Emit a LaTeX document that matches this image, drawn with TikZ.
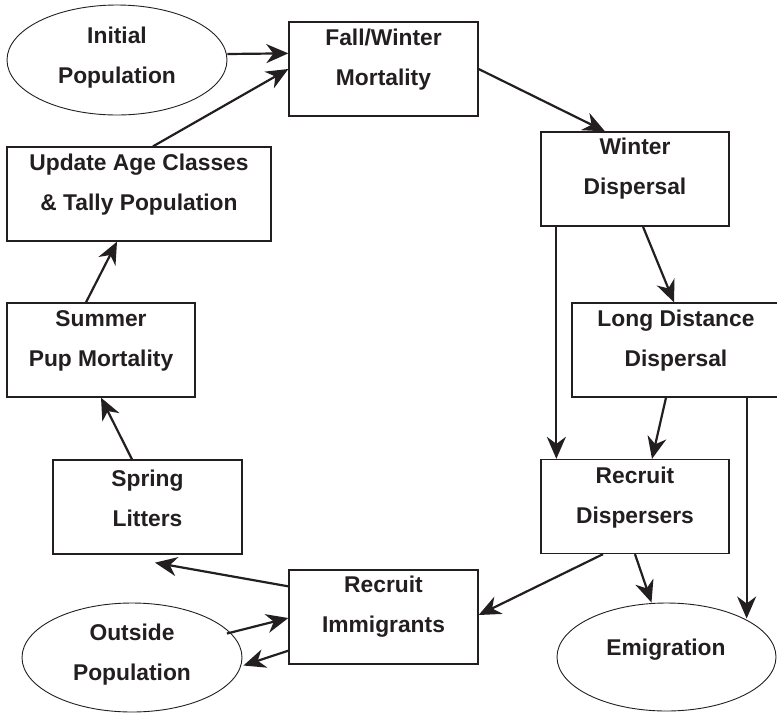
\documentclass[tikz,border=0pt]{standalone}
\usepackage{fontspec}
\setmainfont{Liberation Sans}
\usetikzlibrary{arrows.meta,shapes.geometric,calc}
\definecolor{ink}{RGB}{35,31,32}
\begin{document}
\begin{tikzpicture}[x=1pt,y=-1pt,
  box/.style={draw=ink, line width=1.3pt, rectangle, minimum height=94pt, inner sep=0pt},
  oval/.style={draw=ink, line width=0.9pt, ellipse, inner sep=0pt},
  txt/.style={font=\bfseries\fontsize{22.8}{40}\selectfont, align=center, text=ink, inner sep=0pt},
  flow/.style={draw=ink, line width=2.2pt, -{Stealth[length=22pt,width=19pt,inset=7pt]}}]
\useasboundingbox (0,0) rectangle (777,713);

% stages of the annual cycle
\node[oval, minimum width=220pt, minimum height=110pt] (init) at (117,60) {};
\node[box, minimum width=189pt] (fall) at (383.5,69) {};
\node[box, minimum width=264pt] (upd) at (139,194) {};
\node[box, minimum width=188pt] (wint) at (635,179) {};
\node[box, minimum width=208pt] (long) at (676,350) {};
\node[box, minimum width=188pt] (rdisp) at (635,506.5) {};
\node[oval, minimum width=219pt, minimum height=108pt] (emig) at (666.5,657) {};
\node[box, minimum width=189pt] (rimm) at (383.5,617) {};
\node[oval, minimum width=220pt, minimum height=109pt] (outside) at (132,657.5) {};
\node[box, minimum width=189pt] (spring) at (147.5,507) {};
\node[box, minimum width=188pt] (summer) at (101,350) {};

% labels
\node[txt] (tinit) at (117,58) {Initial\\Population};
\node[txt] (tfall) at (383.5,60) {Fall/Winter\\Mortality};
\node[txt] (tupd) at (139,184.5) {Update Age Classes\\\& Tally Population};
\node[txt] (twint) at (635,169) {Winter\\Dispersal};
\node[txt] (tlong) at (676,341) {Long Distance\\Dispersal};
\node[txt] (trdisp) at (635,497.5) {Recruit\\Dispersers};
\node[txt] (temig) at (666,650) {Emigration};
\node[txt] (trimm) at (383.5,607) {Recruit\\Immigrants};
\node[txt] (toutside) at (132,655) {Outside\\Population};
\node[txt] (tspring) at (147.5,498) {Spring\\Litters};
\node[txt] (tsummer) at (101,341) {Summer\\Pup Mortality};

% transitions
\draw[flow] ($(init.east)+(0,-6)$) -- ($(fall.north west)+(0,32)$);
\draw[flow] ($(upd.north)+(14,0)$) -- (fall.west);
\draw[flow] (fall.east) -- ($(wint.north)+(-30,0)$);
\draw[flow] ($(wint.south west)+(16,0)$) -- ($(rdisp.north west)+(16,0)$);
\draw[flow] ($(wint.south)+(8,0)$) -- ($(long.north)+(-2,0)$);
\draw[flow] ($(long.south)+(-10,0)$) -- ($(rdisp.north)+(17,0)$);
\coordinate (ldrop) at ($(long.south east)+(-34,0)$);
\draw[flow] (ldrop) -- (ldrop |- emig.north east);
\draw[flow] (rdisp.south) -- ($(emig.north)+(-15,0)$);
\draw[flow] ($(rdisp.south)+(-32,0)$) -- ($(rimm.east)+(0,-2)$);
\draw[flow] ($(rimm.north west)+(0,17)$) -- ($(spring.south)+(7.5,8)$);
\draw[flow] ($(spring.north)+(-15.5,0)$) -- (summer.south);
\draw[flow] ($(summer.north)+(-15,0)$) -- ($(upd.south)+(-22,0)$);
\draw[flow] ($(outside.center)+(95,-24)$) -- ($(rimm.west)+(0,1)$);
\draw[flow] ($(rimm.south west)+(0,-14)$) -- ($(outside.east)+(1,8)$);
\end{tikzpicture}
\end{document}
